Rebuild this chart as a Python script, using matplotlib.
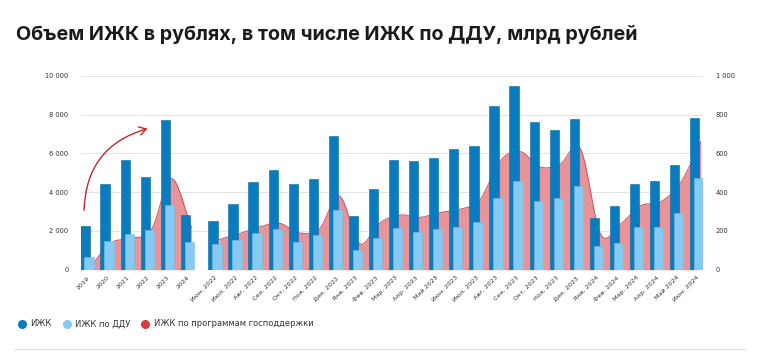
import numpy as np
import matplotlib.pyplot as plt
from matplotlib.lines import Line2D

# yearly values, bn rub (left axis)
years = ["2019", "2020", "2021", "2022", "2023", "2024"]
izhk_year = [2270, 4410, 5650, 4790, 7730, 2810]
ddu_year = [670, 1480, 1860, 2050, 3340, 1450]
gos_year = [200, 1380, 1620, 2050, 4700, 2200]

# monthly values, bn rub (right axis)
months = ["Июн. 2022", "Июл. 2022", "Авг. 2022", "Сен. 2022", "Окт. 2022", "Ноя. 2022",
          "Дек. 2022", "Янв. 2023", "Фев. 2023", "Мар. 2023", "Апр. 2023", "Май 2023",
          "Июн. 2023", "Июл. 2023", "Авг. 2023", "Сен. 2023", "Окт. 2023", "Ноя. 2023",
          "Дек. 2023", "Янв. 2024", "Фев. 2024", "Мар. 2024", "Апр. 2024", "Май 2024",
          "Июн. 2024"]
izhk_month = [250, 337, 454, 513, 444, 466, 690, 279, 418, 565, 561, 575, 621,
              640, 843, 950, 764, 719, 780, 267, 330, 444, 460, 540, 783]
ddu_month = [133, 153, 191, 210, 141, 177, 308, 102, 162, 217, 196, 208, 219,
             244, 368, 460, 356, 370, 432, 124, 138, 222, 222, 291, 472]
gos_month = [155, 185, 220, 240, 190, 210, 380, 135, 240, 282, 270, 295, 312,
             360, 560, 610, 530, 545, 625, 185, 235, 330, 350, 450, 660]

C_DARK = "#0a7bbf"
C_LIGHT = "#86c9f1"
C_RED_FILL = "#e79397"
C_RED_LINE = "#d05a64"
C_RED_DOT = "#d93a40"
C_TEXT = "#333333"


def smooth(x, y, n=24):
    # cubic hermite (catmull-rom) curve through the points, for drawing only
    x = np.asarray(x, float)
    y = np.asarray(y, float)
    m = np.gradient(y)
    xs, ys = [], []
    for i in range(len(x) - 1):
        t = np.linspace(0, 1, n, endpoint=False)
        h00 = 2 * t**3 - 3 * t**2 + 1
        h10 = t**3 - 2 * t**2 + t
        h01 = -2 * t**3 + 3 * t**2
        h11 = t**3 - t**2
        xs.append(x[i] + t * (x[i + 1] - x[i]))
        ys.append(h00 * y[i] + h10 * m[i] + h01 * y[i + 1] + h11 * m[i + 1])
    xs.append([x[-1]])
    ys.append([y[-1]])
    return np.concatenate(xs), np.clip(np.concatenate(ys), 0, None)


fig = plt.figure(figsize=(7.58, 3.52), dpi=100)
ax = fig.add_axes([81 / 758, 82.3 / 352, 622 / 758, 193.7 / 352])
ax2 = ax.twinx()

x_year = np.arange(len(years))
x_month = 6.37 + np.arange(len(months))
w = 0.46
d_light = 0.2
d_red = 0.3

# yearly part
sx, sy = smooth(x_year + d_red, gos_year)
ax.fill_between(sx, 0, sy, color=C_RED_FILL, lw=0, zorder=1)
ax.plot(sx, sy, color=C_RED_LINE, lw=0.8, zorder=1)
ax.bar(x_year, izhk_year, w, color=C_DARK, edgecolor="#0b6aa6", lw=0.4, zorder=2)
ax.bar(x_year + d_light, ddu_year, w, color=C_LIGHT, edgecolor="#74bde8", lw=0.4, zorder=3)

# monthly part
sx, sy = smooth(x_month + d_red, gos_month)
ax2.fill_between(sx, 0, sy, color=C_RED_FILL, lw=0, zorder=1)
ax2.plot(sx, sy, color=C_RED_LINE, lw=0.8, zorder=1)
ax2.bar(x_month, izhk_month, w, color=C_DARK, edgecolor="#0b6aa6", lw=0.4, zorder=2)
ax2.bar(x_month + d_light, ddu_month, w, color=C_LIGHT, edgecolor="#74bde8", lw=0.4, zorder=3)

ax.set_xlim(-0.2, 30.78)
ax.set_ylim(0, 10000)
ax2.set_ylim(0, 1000)
ax.set_yticks(np.arange(0, 10001, 2000))
ax2.set_yticks(np.arange(0, 1001, 200))
ax.set_yticklabels([f"{v:,}".replace(",", " ") for v in range(0, 10001, 2000)])
ax2.set_yticklabels([f"{v:,}".replace(",", " ") for v in range(0, 1001, 200)])
ax.grid(axis="y", color="#e4e4e4", lw=0.8)
ax.set_axisbelow(True)

ax.set_xticks(np.concatenate([x_year, x_month]) + 0.1)
ax.set_xticklabels(years + months, rotation=45, ha="right", rotation_mode="anchor",
                   fontsize=4.6, color=C_TEXT)

for a in (ax, ax2):
    for s in a.spines.values():
        s.set_visible(False)
    a.tick_params(length=0, labelsize=4.8, labelcolor=C_TEXT)
ax.tick_params(axis="y", pad=9)
ax2.tick_params(axis="y", pad=9)
ax.tick_params(axis="x", pad=4, labelsize=4.6)

# hand-drawn style arrow
ax.annotate("", xy=(3.25, 7320), xytext=(-0.05, 2930),
            arrowprops=dict(arrowstyle="->,head_length=0.5,head_width=0.3",
                            connectionstyle="arc3,rad=-0.38", color="#c0272d", lw=1.0),
            zorder=5)

fig.text(16 / 758, 1 - 35 / 352, "Объем ИЖК в рублях, в том числе ИЖК по ДДУ, млрд рублей",
         fontsize=14.2, fontweight="bold", family="Inter", color="#1a1a1a", va="center")

handles = [Line2D([], [], ls="", marker="o", ms=5.5, color=c) for c in (C_DARK, C_LIGHT, C_RED_DOT)]
fig.legend(handles, ["ИЖК", "ИЖК по ДДУ", "ИЖК по программам господдержки"],
           loc="center left", bbox_to_anchor=(11 / 758, 1 - 324 / 352), ncol=3,
           frameon=False, fontsize=6, handlelength=0.8, handletextpad=0.6,
           columnspacing=1.4, labelcolor=C_TEXT)

fig.add_artist(Line2D([15 / 758, 745 / 758], [1 - 349 / 352] * 2, color="#e0e0e0", lw=1))

fig.savefig("out.png", dpi=100, facecolor="white")
